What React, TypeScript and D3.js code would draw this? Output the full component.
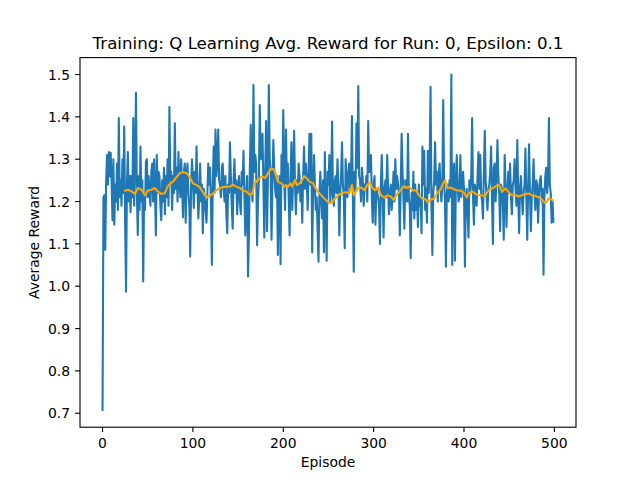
import React from "react";
import * as d3 from "d3";

const TITLE = "Training: Q Learning Avg. Reward for Run: 0, Epsilon: 0.1";
const X_LABEL = "Episode";
const Y_LABEL = "Average Reward";
const X_TICKS = [0, 100, 200, 300, 400, 500];
const Y_TICKS = [0.7, 0.8, 0.9, 1.0, 1.1, 1.2, 1.3, 1.4, 1.5];

// Average reward per episode (episodes 0..499)
const rewards: number[] = [
  0.705, 1.21, 1.215, 1.086, 1.25, 1.31, 1.24, 1.317, 1.26, 1.315,
  1.25, 1.156, 1.30, 1.145, 1.24, 1.20, 1.29, 1.18, 1.397, 1.21,
  1.25, 1.19, 1.30, 1.22, 1.377, 1.15, 0.987, 1.24, 1.317, 1.20,
  1.26, 1.175, 1.26, 1.21, 1.397, 1.19, 1.30, 1.457, 1.22, 1.121,
  1.26, 1.18, 1.33, 1.20, 1.25, 1.011, 1.22, 1.18, 1.294, 1.30,
  1.21, 1.26, 1.22, 1.19, 1.27, 1.29, 1.20, 1.30, 1.23, 1.12,
  1.31, 1.22, 1.27, 1.26, 1.19, 1.156, 1.25, 1.20, 1.28, 1.17,
  1.26, 1.21, 1.30, 1.19, 1.423, 1.25, 1.27, 1.18, 1.26, 1.22,
  1.385, 1.23, 1.28, 1.20, 1.317, 1.25, 1.21, 1.30, 1.24, 1.163,
  1.27, 1.29, 1.15, 1.26, 1.29, 1.22, 1.19, 1.07, 1.24, 1.30,
  1.25, 1.185, 1.27, 1.22, 1.33, 1.24, 1.16, 1.21, 1.29, 1.20,
  1.24, 1.125, 1.23, 1.21, 1.18, 1.15, 1.22, 1.29, 1.24, 1.28,
  1.19, 1.05, 1.24, 1.33, 1.22, 1.37, 1.26, 1.30, 1.37, 1.25,
  1.24, 1.21, 1.28, 1.29, 1.23, 1.20, 1.26, 1.17, 1.125, 1.24,
  1.22, 1.34, 1.26, 1.19, 1.136, 1.25, 1.30, 1.22, 1.25, 1.17,
  1.23, 1.26, 1.20, 1.17, 1.27, 1.24, 1.32, 1.21, 1.12, 1.22,
  1.26, 1.023, 1.12, 1.28, 1.381, 1.23, 1.20, 1.475, 1.27, 1.31,
  1.29, 1.097, 1.20, 1.25, 1.428, 1.30, 1.31, 1.36, 1.24, 1.115,
  1.27, 1.39, 1.13, 1.25, 1.475, 1.30, 1.27, 1.11, 1.24, 1.345,
  1.28, 1.23, 1.21, 1.26, 1.074, 1.22, 1.26, 1.052, 1.31, 1.24,
  1.416, 1.26, 1.18, 1.37, 1.24, 1.29, 1.21, 1.12, 1.25, 1.34,
  1.18, 1.27, 1.367, 1.24, 1.17, 1.25, 1.22, 1.29, 1.26, 1.20,
  1.24, 1.15, 1.26, 1.33, 1.23, 1.29, 1.25, 1.18, 1.27, 1.36,
  1.24, 1.36, 1.08, 1.22, 1.31, 1.24, 1.18, 1.21, 1.13, 1.058,
  1.22, 1.27, 1.20, 1.16, 1.25, 1.08, 1.317, 1.19, 1.06, 1.27,
  1.24, 1.31, 1.20, 1.23, 1.389, 1.21, 1.19, 1.25, 1.26, 1.22,
  1.30, 1.24, 1.12, 1.22, 1.26, 1.34, 1.24, 1.21, 1.09, 1.30,
  1.25, 1.21, 1.27, 1.29, 1.23, 1.25, 1.402, 1.21, 1.034, 1.27,
  1.23, 1.385, 1.28, 1.473, 1.26, 1.25, 1.20, 1.28, 1.25, 1.19,
  1.24, 1.23, 1.26, 1.20, 1.39, 1.27, 1.27, 1.31, 1.21, 1.15,
  1.24, 1.26, 1.145, 1.23, 1.22, 1.21, 1.19, 1.10, 1.24, 1.31,
  1.22, 1.115, 1.23, 1.25, 1.21, 1.31, 1.23, 1.17, 1.22, 1.24,
  1.18, 1.21, 1.27, 1.20, 1.30, 1.23, 1.26, 1.24, 1.22, 1.12,
  1.24, 1.36, 1.27, 1.21, 1.136, 1.25, 1.22, 1.20, 1.36, 1.21,
  1.19, 1.066, 1.22, 1.18, 1.27, 1.16, 1.24, 1.18, 1.22, 1.14,
  1.24, 1.19, 1.21, 1.125, 1.33, 1.24, 1.32, 1.18, 1.23, 1.15,
  1.32, 1.22, 1.28, 1.471, 1.19, 1.074, 1.22, 1.25, 1.34, 1.24,
  1.27, 1.20, 1.26, 1.29, 1.23, 1.20, 1.24, 1.44, 1.25, 1.20,
  1.046, 1.22, 1.24, 1.20, 1.25, 1.21, 1.50, 1.05, 1.25, 1.29,
  1.06, 1.24, 1.31, 1.24, 1.20, 1.22, 1.31, 1.21, 1.25, 1.27,
  1.23, 1.046, 1.21, 1.23, 1.17, 1.115, 1.25, 1.22, 1.26, 1.397,
  1.21, 1.145, 1.24, 1.22, 1.19, 1.26, 1.317, 1.23, 1.31, 1.22,
  1.20, 1.16, 1.27, 1.367, 1.25, 1.21, 1.18, 1.23, 1.24, 1.27,
  1.33, 1.20, 1.10, 1.28, 1.29, 1.20, 1.25, 1.345, 1.26, 1.22,
  1.13, 1.24, 1.23, 1.20, 1.11, 1.31, 1.24, 1.14, 1.22, 1.27,
  1.22, 1.29, 1.21, 1.17, 1.24, 1.25, 1.30, 1.23, 1.19, 1.345,
  1.22, 1.125, 1.23, 1.26, 1.21, 1.17, 1.22, 1.24, 1.325, 1.21,
  1.11, 1.23, 1.335, 1.22, 1.13, 1.21, 1.24, 1.30, 1.22, 1.18,
  1.25, 1.24, 1.15, 1.22, 1.25, 1.26, 1.20, 1.23, 1.027, 1.21,
  1.26, 1.28, 1.22, 1.25, 1.397, 1.24, 1.22, 1.15, 1.20, 1.15,
];

// Moving-average curve at these episodes
const avgEpisodes: number[] = [
  24, 28, 32, 36, 39, 43, 47, 50, 54, 58, 61, 65, 69, 72, 76, 78, 82, 85, 89, 93,
  96, 100, 104, 107, 111, 115, 118, 122, 126, 130, 133, 137, 141, 144, 148, 152, 155, 159, 163, 166,
  168, 172, 176, 180, 183, 186, 189, 191, 194, 198, 201, 203, 205, 208, 210, 213, 215, 218, 220, 223,
  226, 229, 233, 235, 238, 242, 245, 247, 251, 254, 258, 262, 266, 269, 273, 276, 278, 282, 286, 290,
  293, 296, 299, 302, 305, 308, 312, 315, 319, 322, 325, 328, 330, 334, 336, 339, 343, 347, 350, 354,
  358, 360, 363, 367, 370, 374, 377, 379, 382, 385, 389, 393, 396, 400, 403, 405, 409, 413, 416, 420,
  423, 426, 429, 433, 437, 439, 442, 446, 450, 453, 457, 461, 464, 468, 472, 475, 479, 483, 486, 490,
  494, 497, 499,
];
const avgValues: number[] = [
  1.225, 1.228, 1.224, 1.218, 1.232, 1.228, 1.215, 1.226, 1.228, 1.232, 1.224, 1.218, 1.22, 1.236, 1.244, 1.247, 1.258, 1.266, 1.27, 1.267,
  1.259, 1.243, 1.239, 1.235, 1.223, 1.21, 1.213, 1.218, 1.227, 1.232, 1.234, 1.235, 1.235, 1.24, 1.235, 1.232, 1.226, 1.224, 1.216, 1.219,
  1.243, 1.251, 1.259, 1.256, 1.266, 1.277, 1.277, 1.27, 1.247, 1.243, 1.235, 1.239, 1.235, 1.243, 1.235, 1.251, 1.239, 1.243, 1.247, 1.26,
  1.255, 1.247, 1.243, 1.235, 1.224, 1.215, 1.208, 1.204, 1.196, 1.198, 1.209, 1.217, 1.22, 1.222, 1.22, 1.239, 1.215, 1.231, 1.233, 1.227,
  1.239, 1.245, 1.231, 1.227, 1.233, 1.215, 1.209, 1.215, 1.212, 1.204, 1.215, 1.222, 1.227, 1.237, 1.232, 1.235, 1.227, 1.226, 1.215, 1.207,
  1.204, 1.198, 1.204, 1.207, 1.219, 1.228, 1.243, 1.25, 1.232, 1.233, 1.229, 1.226, 1.226, 1.221, 1.21, 1.219, 1.224, 1.218, 1.215, 1.215,
  1.212, 1.223, 1.229, 1.233, 1.239, 1.239, 1.223, 1.231, 1.221, 1.215, 1.215, 1.212, 1.215, 1.218, 1.219, 1.215, 1.213, 1.21, 1.205, 1.196,
  1.208, 1.205, 1.2,
];

const W = 640;
const H = 480;
const L = 80, R = 576, T = 57.6, B = 427.2;
const FONT = "DejaVu Sans, sans-serif";

export default function App() {
  const x = d3.scaleLinear().domain([-24.95, 523.95]).range([L, R]);
  const y = d3.scaleLinear().domain([0.667, 1.54]).range([B, T]);

  const rewardLine = d3
    .line<number>()
    .x((_, i) => x(i))
    .y((d) => y(d));
  const avgLine = d3
    .line<number>()
    .x((_, i) => x(avgEpisodes[i]))
    .y((d) => y(d));

  const tickLen = 4.86;

  return (
    <svg
      width={W}
      height={H}
      style={{ position: "fixed", left: 0, top: 0, background: "#fff" }}
      fontFamily={FONT}
    >
      <rect x={0} y={0} width={W} height={H} fill="#fff" />
      <defs>
        <clipPath id="plotclip">
          <rect x={L} y={T} width={R - L} height={B - T} />
        </clipPath>
      </defs>
      <g clipPath="url(#plotclip)">
        <path d={rewardLine(rewards) || ""} fill="none" stroke="#1f77b4" strokeWidth={2.08} strokeLinejoin="round" />
        <path d={avgLine(avgValues) || ""} fill="none" stroke="#ffa500" strokeWidth={2.08} strokeLinejoin="round" />
      </g>
      <rect x={L} y={T} width={R - L} height={B - T} fill="none" stroke="#000" strokeWidth={1.11} />
      {X_TICKS.map((t) => (
        <g key={"x" + t}>
          <line x1={x(t)} x2={x(t)} y1={B} y2={B + tickLen} stroke="#000" strokeWidth={1.11} />
          <text x={x(t)} y={448} textAnchor="middle" fontSize={13.9} fill="#000">
            {t}
          </text>
        </g>
      ))}
      {Y_TICKS.map((t) => (
        <g key={"y" + t}>
          <line x1={L - tickLen} x2={L} y1={y(t)} y2={y(t)} stroke="#000" strokeWidth={1.11} />
          <text x={70} y={y(t) + 5} textAnchor="end" fontSize={13.9} fill="#000">
            {t.toFixed(1)}
          </text>
        </g>
      ))}
      <text x={(L + R) / 2} y={467} textAnchor="middle" fontSize={13.9} fill="#000">
        {X_LABEL}
      </text>
      <text
        transform={`translate(39, ${(T + B) / 2}) rotate(-90)`}
        textAnchor="middle"
        fontSize={13.9}
        fill="#000"
      >
        {Y_LABEL}
      </text>
      <text x={(L + R) / 2} y={49} textAnchor="middle" fontSize={16.67} fill="#000">
        {TITLE}
      </text>
    </svg>
  );
}
